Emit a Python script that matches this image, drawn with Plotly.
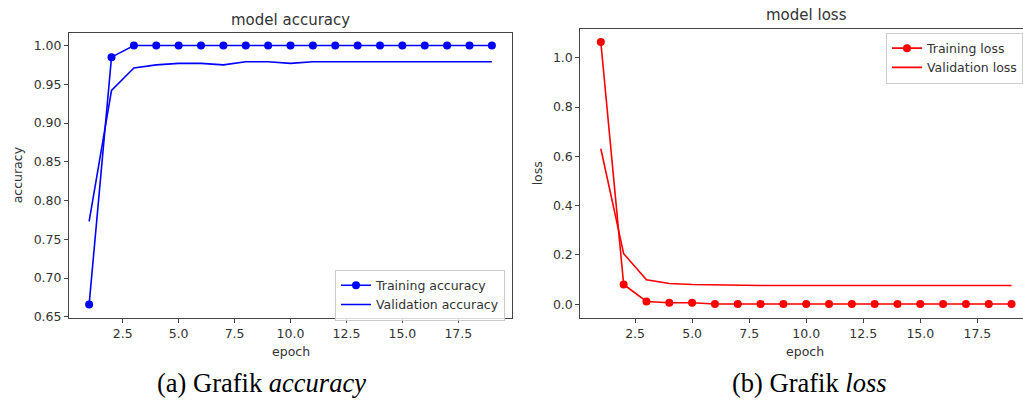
import plotly.graph_objects as go

epochs = list(range(1, 20))
train_acc = [0.666, 0.985] + [1.0] * 17
val_acc = [0.773, 0.942, 0.971, 0.975, 0.977, 0.977, 0.975, 0.979, 0.979, 0.977,
           0.979, 0.979, 0.979, 0.979, 0.979, 0.979, 0.979, 0.979, 0.979]
train_loss = [1.064, 0.080, 0.011, 0.006, 0.006, 0.001, 0.001, 0.001, 0.001, 0.001,
              0.001, 0.001, 0.001, 0.001, 0.001, 0.001, 0.001, 0.001, 0.001]
val_loss = [0.631, 0.205, 0.099, 0.084, 0.080, 0.078, 0.077, 0.076, 0.076, 0.076,
            0.076, 0.076, 0.076, 0.076, 0.076, 0.076, 0.076, 0.076, 0.076]

acc_yticks = [0.65, 0.70, 0.75, 0.80, 0.85, 0.90, 0.95, 1.00]
loss_yticks = [0.0, 0.2, 0.4, 0.6, 0.8, 1.0]
xticks = [2.5, 5.0, 7.5, 10.0, 12.5, 15.0, 17.5]

W, H = 1023, 402
FONT = "DejaVu Sans"
TXT = "#333333"
AX = "#444444"
BLUE = "#0000ff"
RED = "#ff0000"

fig = go.Figure()
fig.add_trace(go.Scatter(x=epochs, y=train_acc, mode="lines+markers", name="Training accuracy",
                         line=dict(color=BLUE, width=1.6), marker=dict(size=8, color=BLUE),
                         xaxis="x", yaxis="y", legend="legend"))
fig.add_trace(go.Scatter(x=epochs, y=val_acc, mode="lines", name="Validation accuracy",
                         line=dict(color=BLUE, width=1.6), xaxis="x", yaxis="y", legend="legend"))
fig.add_trace(go.Scatter(x=epochs, y=train_loss, mode="lines+markers", name="Training loss",
                         line=dict(color=RED, width=1.6), marker=dict(size=8, color=RED),
                         xaxis="x2", yaxis="y2", legend="legend2"))
fig.add_trace(go.Scatter(x=epochs, y=val_loss, mode="lines", name="Validation loss",
                         line=dict(color=RED, width=1.6), xaxis="x2", yaxis="y2", legend="legend2"))

def px_x(p):
    return p / W

def px_y(p):
    return 1 - p / H

axis_common = dict(showgrid=False, zeroline=False, showline=True, linecolor=AX, linewidth=1,
                   ticks="outside", ticklen=4, tickcolor=AX, tickwidth=1,
                   tickfont=dict(family=FONT, size=12.5, color=TXT))

fig.update_layout(
    width=W, height=H, autosize=False,
    margin=dict(l=0, r=0, t=0, b=0),
    paper_bgcolor="white", plot_bgcolor="white",
    xaxis=dict(domain=[px_x(69), px_x(512)], range=[0.1, 19.9], tickvals=xticks,
               ticktext=[f"{v:.1f}" for v in xticks], mirror=True, anchor="y", **axis_common),
    yaxis=dict(domain=[px_y(323), px_y(33)], range=[0.6482, 1.0168], tickvals=acc_yticks,
               ticktext=[f"{v:.2f}" for v in acc_yticks], mirror=True, anchor="x", **axis_common),
    xaxis2=dict(domain=[px_x(580.3), 1.0], range=[0.1, 19.5], tickvals=xticks,
                ticktext=[f"{v:.1f}" for v in xticks], mirror=True, anchor="y2", **axis_common),
    yaxis2=dict(domain=[px_y(322.7), px_y(29.3)], range=[-0.0556, 1.1176], tickvals=loss_yticks,
                ticktext=[f"{v:.1f}" for v in loss_yticks], mirror=False, anchor="x2", **axis_common),
    legend=dict(x=px_x(505), y=px_y(325.5), xanchor="right", yanchor="bottom",
                bgcolor="rgba(255,255,255,0.8)", bordercolor="#cccccc", borderwidth=1,
                font=dict(family=FONT, size=12.5, color=TXT), tracegroupgap=0),
    legend2=dict(x=1.0, y=px_y(33), xanchor="right", yanchor="top",
                 bgcolor="rgba(255,255,255,0.8)", bordercolor="#cccccc", borderwidth=1,
                 font=dict(family=FONT, size=12.5, color=TXT), tracegroupgap=0),
    showlegend=True,
)

ann = []
def add_text(text, x, y, size, family=FONT, color=TXT, angle=0):
    ann.append(dict(text=text, x=px_x(x), y=px_y(y), xref="paper", yref="paper",
                    xanchor="center", yanchor="middle", showarrow=False, textangle=angle,
                    font=dict(family=family, size=size, color=color)))

add_text("model accuracy", 290.5, 20.5, 15)
add_text("model loss", 806, 15.5, 15)
add_text("epoch", 290.5, 357, 12.5)
add_text("epoch", 805, 357, 12.5)
add_text("accuracy", 17, 178, 12.5, angle=-90)
add_text("loss", 537, 176, 12.5, angle=-90)
add_text("(a) Grafik <i>accuracy</i>", 261.5, 389, 26.5, family="Liberation Serif", color="#000000")
add_text("(b) Grafik <i>loss</i>", 809, 389, 26.5, family="Liberation Serif", color="#000000")
fig.update_layout(annotations=ann)

fig.write_html("out.html", config={"displayModeBar": False},
               post_script="document.body.style.margin='0';document.body.style.overflow='hidden';")
